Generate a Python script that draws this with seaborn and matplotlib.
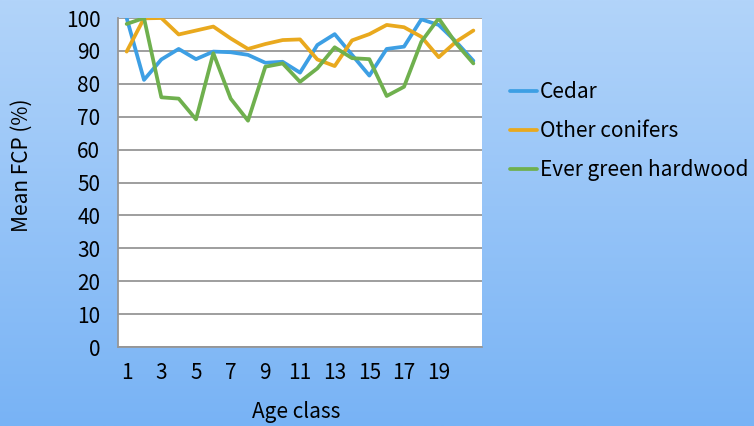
import numpy as np
import pandas as pd
import matplotlib
matplotlib.use("Agg")
import matplotlib.pyplot as plt
import seaborn as sns
from matplotlib.ticker import MultipleLocator, FixedLocator

# values
age_class = list(range(1, 22))
cedar = [100, 81.2, 87.4, 90.6, 87.5, 89.8, 89.6, 88.8, 86.4, 86.7, 83.4,
         91.8, 95.1, 88.8, 82.5, 90.6, 91.3, 99.6, 97.9, 92.8, 87.0]
other_conifers = [89.8, 99.9, 100, 95.0, 96.2, 97.4, 93.8, 90.6, 92.1, 93.3, 93.5,
                  87.4, 85.4, 93.2, 95.1, 97.9, 97.2, 94.3, 88.1, 92.8, 96.2]
evergreen_hw = [98.2, 100, 75.9, 75.5, 69.2, 89.3, 75.5, 68.8, 85.2, 86.2, 80.6,
                84.7, 91.1, 87.8, 87.5, 76.3, 79.1, 92.8, 99.9, 92.3, 86.2]
series_names = ["Cedar", "Other conifers", "Ever green hardwood"]
colors = ["#3D9FE4", "#E9A91E", "#6FB04E"]

df = pd.DataFrame({
    "Age class": age_class * 3,
    "FCP": cedar + other_conifers + evergreen_hw,
    "Type": [series_names[0]] * 21 + [series_names[1]] * 21 + [series_names[2]] * 21,
})

sns.set_style("white")
plt.rcParams['font.family'] = ['Noto Sans CJK JP', 'DejaVu Sans']
plt.rcParams['text.color'] = 'black'
plt.rcParams['axes.labelcolor'] = 'black'
plt.rcParams['xtick.labelcolor'] = 'black'
plt.rcParams['ytick.labelcolor'] = 'black'

fig = plt.figure(figsize=(7.54, 4.26), dpi=100)

# gradient background
bg = fig.add_axes([0, 0, 1, 1], zorder=-10)
grad = np.linspace(0, 1, 256).reshape(-1, 1)
top = np.array([0xB2, 0xD4, 0xFA]) / 255
bot = np.array([0x78, 0xB3, 0xF5]) / 255
img = top + (bot - top) * grad[:, :, None]
bg.imshow(img, aspect="auto", extent=[0, 1, 0, 1])
bg.axis("off")

ax = fig.add_axes([0.1565, 0.1854, 0.4828, 0.7723])
ax.set_facecolor("white")
sns.lineplot(data=df, x="Age class", y="FCP", hue="Type", palette=colors,
             linewidth=2.7, ax=ax, legend=True)

ax.set_xlim(0.5, 21.5)
ax.set_ylim(0, 100)
ax.yaxis.set_major_locator(MultipleLocator(10))
ax.grid(axis="y", color="#969696", linewidth=1.3)
ax.set_axisbelow(True)

ax.xaxis.set_major_locator(FixedLocator(list(range(1, 20, 2))))
ax.xaxis.set_minor_locator(FixedLocator(np.arange(0.5, 22, 1)))
ax.tick_params(axis="x", which="major", length=0, pad=11, labelsize=15)
ax.tick_params(axis="x", which="minor", length=5, color="#969696", width=1.3)
ax.tick_params(axis="y", length=4.7, color="#969696", width=1.3, labelsize=15, pad=8)

for side in ["top", "right"]:
    ax.spines[side].set_visible(False)
for side in ["left", "bottom"]:
    ax.spines[side].set_color("#969696")
    ax.spines[side].set_linewidth(1.3)

ax.set_xlabel("Age class", fontsize=15, va="center")
ax.set_ylabel("Mean FCP (%)", fontsize=15, va="center")
ax.xaxis.set_label_coords(0.49, -0.198)
ax.yaxis.set_label_coords(-0.264, 0.553)

handles, labels = ax.get_legend_handles_labels()
ax.legend(handles, labels, loc="upper left", bbox_to_anchor=(0.676, 0.81),
          bbox_transform=fig.transFigure, frameon=False, fontsize=15,
          borderpad=0, borderaxespad=0,
          handlelength=1.3, handletextpad=0.15, labelspacing=0.82)

fig.savefig("out.png", dpi=100)
